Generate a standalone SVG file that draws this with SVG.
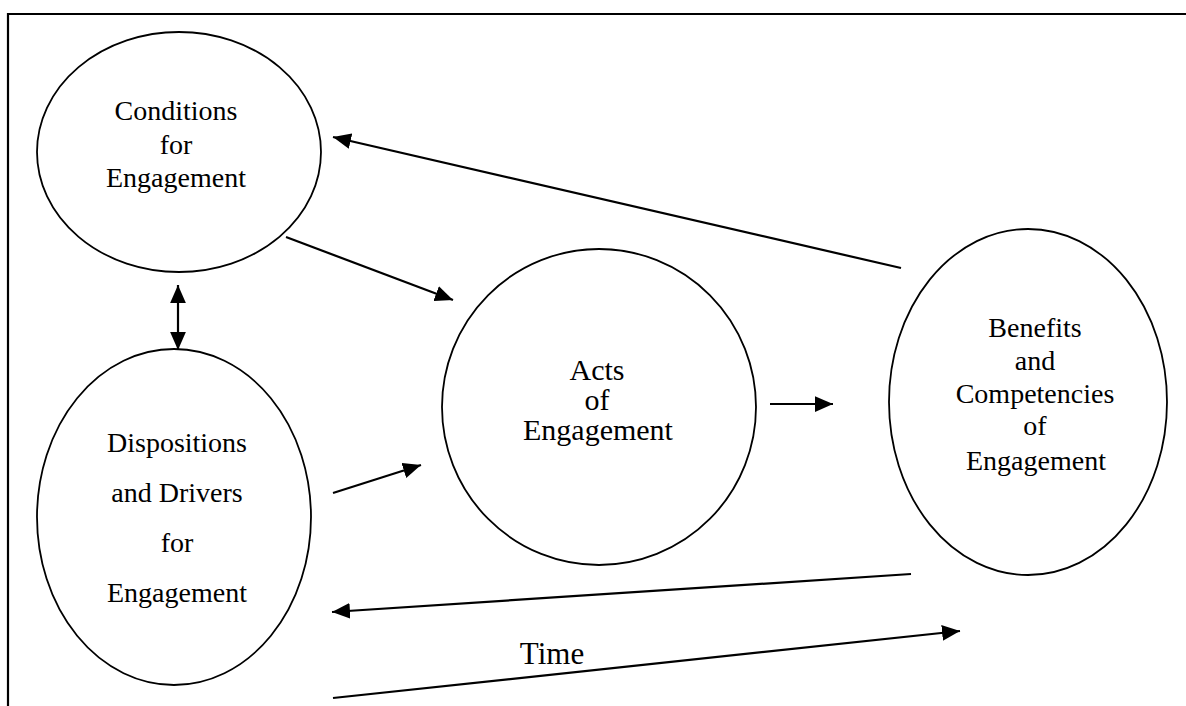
<svg xmlns="http://www.w3.org/2000/svg" width="1186" height="706" viewBox="0 0 1186 706">
<style>
.node ellipse{fill:#fff;stroke:#000;stroke-width:1.8}
text{font-family:"Liberation Serif","Times New Roman",serif;fill:#000;text-anchor:middle}
.t28{font-size:28px}
.t30{font-size:30px}
.t31{font-size:31px}
.conn line{stroke:#000;stroke-width:2.2}
</style>
<defs>
<marker id="ah" markerUnits="userSpaceOnUse" markerWidth="18" markerHeight="16" refX="16" refY="7" orient="auto-start-reverse" viewBox="0 0 16 14">
<path d="M0,0 L16,7 L0,14 z" fill="#000"/>
</marker>
</defs>
<rect width="1186" height="706" fill="#fff"/>
<path d="M8,706 L8,14 L1186,14" fill="none" stroke="#000" stroke-width="2.2"/>
<g id="conditions" class="node">
<ellipse cx="179" cy="152" rx="142" ry="120"/>
<text class="t28" x="176" y="120">Conditions</text>
<text class="t28" x="176" y="154">for</text>
<text class="t28" x="176" y="187">Engagement</text>
</g>
<g id="dispositions" class="node">
<ellipse cx="174" cy="517" rx="137" ry="168"/>
<text class="t28" x="177" y="452">Dispositions</text>
<text class="t28" x="177" y="502">and Drivers</text>
<text class="t28" x="177" y="552">for</text>
<text class="t28" x="177" y="602">Engagement</text>
</g>
<g id="acts" class="node">
<ellipse cx="599" cy="407" rx="157" ry="158"/>
<text class="t30" x="597" y="380">Acts</text>
<text class="t30" x="597" y="410">of</text>
<text class="t30" x="598" y="440">Engagement</text>
</g>
<g id="benefits" class="node">
<ellipse cx="1028" cy="402" rx="139" ry="173"/>
<text class="t28" x="1035" y="337">Benefits</text>
<text class="t28" x="1035" y="370">and</text>
<text class="t28" x="1035" y="403">Competencies</text>
<text class="t28" x="1035" y="435">of</text>
<text class="t28" x="1036" y="470">Engagement</text>
</g>
<g id="time-label">
<text class="t31" x="552" y="664">Time</text>
</g>
<g id="connectors" class="conn">
<line x1="901" y1="268" x2="333" y2="137" marker-end="url(#ah)"/>
<line x1="286" y1="237" x2="453" y2="300" marker-end="url(#ah)"/>
<line x1="178" y1="285" x2="178" y2="350" marker-start="url(#ah)" marker-end="url(#ah)"/>
<line x1="333" y1="493" x2="421" y2="465" marker-end="url(#ah)"/>
<line x1="770" y1="404" x2="833" y2="404" marker-end="url(#ah)"/>
<line x1="911" y1="574" x2="332" y2="612" marker-end="url(#ah)"/>
<line x1="333" y1="698" x2="960" y2="631" marker-end="url(#ah)"/>
</g>
</svg>
